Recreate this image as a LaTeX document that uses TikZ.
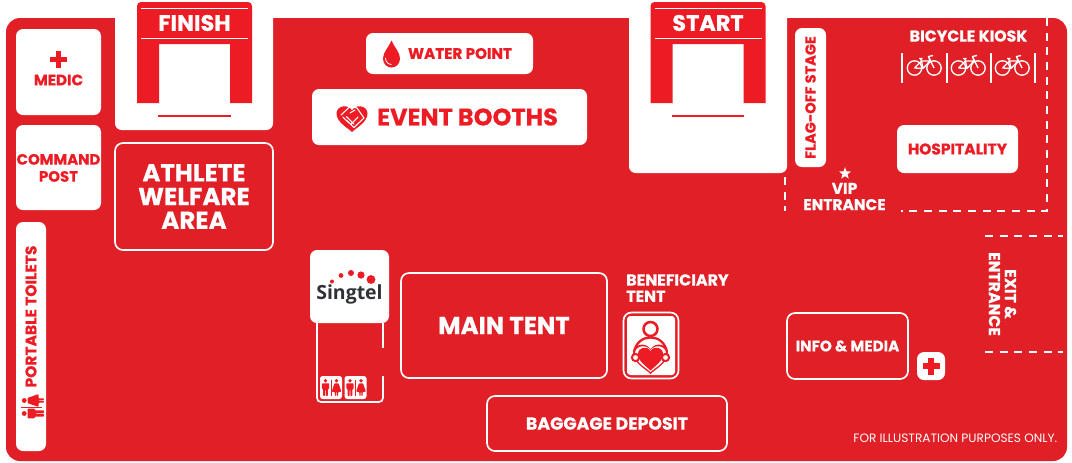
\documentclass[tikz,border=0pt]{standalone}
\usepackage{fontspec}
\usetikzlibrary{calc,shapes.geometric}
\setmainfont{Poppins}[BoldFeatures={FakeBold=0.5}]
\newfontfamily\logofont{Open Sans}
\definecolor{mapred}{HTML}{E01F26}
\definecolor{archred}{HTML}{ED1C24}
\definecolor{logodark}{HTML}{2F3136}
\newcommand\fsz[1]{\fontsize{#1}{#1}\selectfont\bfseries}
\tikzset{
  solid box/.style={fill=white,rounded corners=7*0.75pt},
  line box/.style={draw=white,line width=1.25pt,rounded corners=8*0.75pt},
  wlabel/.style={text=white,inner sep=0pt,align=center},
  rlabel/.style={text=archred,inner sep=0pt,align=center},
  fence/.style={draw=white,line width=1.2pt,dash pattern=on 6pt off 5pt},
  wline/.style={draw=white,line width=0.9pt},
}
% box: name x1 y1 x2 y2 style labelstyle label
\newcommand\zone[8]{%
  \path[#6] (#2,#3) rectangle (#4,#5);
  \node[#7] (#1) at ($(#2,#3)!.5!(#4,#5)$) {#8};}
% arch with label
\newcommand\arch[3]{%
  \begin{scope}[shift={(#2,0)}]
    \fill[archred] (137,103) [rounded corners=3pt] -- (137,2) -- (252,2) [sharp corners] -- (252,103) -- (230,103) -- (230,44) -- (159,44) -- (159,103) -- cycle;
    \draw[white,line width=0.9pt] (141,8.5) -- (248,8.5) (141,38.5) -- (248,38.5);
    \draw[archred,line width=0.9pt] (158,116) -- (230.5,116);
    \node[wlabel,font=\fsz{16.8}] (#1) at (194.5,23) {#3};
  \end{scope}}
\newcommand\crossmark[3]{% x y halfsize
  \fill[archred] (#1-#3*0.33,#2-#3) rectangle (#1+#3*0.33,#2+#3);
  \fill[archred] (#1-#3,#2-#3*0.33) rectangle (#1+#3,#2+#3*0.33);}
\newcommand\heartpath{(0,1) .. controls (-0.25,0.72) and (-1,0.3) .. (-1,-0.32) .. controls (-1,-0.85) and (-0.3,-1.05) .. (0,-0.55) .. controls (0.3,-1.05) and (1,-0.85) .. (1,-0.32) .. controls (1,0.3) and (0.25,0.72) .. (0,1) -- cycle}
% person figures, unit height approx 1 (-.5..+.5)
\newcommand\manfig[1]{%
  \begin{scope}[#1]
    \fill (0,-0.40) circle (0.11);
    \fill[rounded corners=0.6pt] (-0.22,-0.25) -- (0.22,-0.25) -- (0.22,0.08) -- (0.14,0.08) -- (0.14,0.5) -- (0.02,0.5) -- (0.02,0.12) -- (-0.02,0.12) -- (-0.02,0.5) -- (-0.14,0.5) -- (-0.14,0.08) -- (-0.22,0.08) -- cycle;
  \end{scope}}
\newcommand\womanfig[1]{%
  \begin{scope}[#1]
    \fill (0,-0.40) circle (0.11);
    \fill[rounded corners=0.6pt] (-0.12,-0.25) -- (0.12,-0.25) -- (0.29,0.25) -- (0.1,0.25) -- (0.1,0.5) -- (0.02,0.5) -- (0.02,0.25) -- (-0.02,0.25) -- (-0.02,0.5) -- (-0.1,0.5) -- (-0.1,0.25) -- (-0.29,0.25) -- cycle;
  \end{scope}}
\newcommand\toiletbox[1]{%
  \begin{scope}[shift={(#1,387.5)}]
    \fill[white,rounded corners=2pt] (-11,-11.5) rectangle (11,11.5);
    \begin{scope}[archred,fill=archred]
      \manfig{shift={(-5.5,0)},scale=17}
      \womanfig{shift={(5.5,0)},scale=17}
    \end{scope}
    \draw[archred,line width=0.5pt] (0,-8) -- (0,8);
  \end{scope}}
\newcommand\bike[1]{%
  \begin{scope}[shift={(#1,0)}]
    \draw[white,line width=1pt] (914.5,68) circle (7.2) (934,68) circle (7.2);
    \draw[white,line width=1pt,line join=round] (914.5,68) -- (921.5,61) -- (930,61) -- (923,68.5) -- (914.5,68) (921.5,61) -- (923,68.5) (934,68) -- (928.5,56.5) -- (933,55.5) (930,61) -- (928.5,56.5) (919,58.5) -- (922.5,58.5) (920.5,58.5) -- (921.5,61);
  \end{scope}}
\begin{document}
\begin{tikzpicture}[x=0.75pt,y=-0.75pt]
\useasboundingbox (0,0) rectangle (1072,462);
\fill[white] (0,0) rectangle (1072,462);
% ground
\fill[mapred,rounded corners=10.5pt] (6,18) rectangle (1067,461);
% notches
\fill[white,rounded corners=5pt] (115,-6) -- (115,130) -- (273,130) -- (273,-6) -- cycle;
\fill[white,rounded corners=5pt] (629,-6) -- (629,173) -- (787,173) -- (787,-6) -- cycle;
\fill[white] (115,0) rectangle (273,18);
\fill[white] (629,0) rectangle (787,18);
\arch{finish}{0}{FINISH}
\arch{start}{513.5}{START}
% left column
\zone{medic}{16}{29}{101}{115}{solid box}{rlabel,font=\fsz{11.4},yshift=-8*0.75pt}{MEDIC}
\crossmark{58.5}{59.5}{8.5}
\zone{command}{16}{125}{101}{210}{solid box}{rlabel,font=\fsz{11.2},yshift=-0.3pt}{COMMAND\\[1.6pt]POST}
\zone{toilets}{16}{222}{46}{451}{solid box}{}{}
\node[rlabel,font=\fsz{11.6},rotate=90] (toiletlabel) at (31,316.5) {PORTABLE TOILETS};
\begin{scope}[archred,fill=archred]
  \womanfig{shift={(33,400.5)},rotate=90,scale=22}
  \manfig{shift={(33,413.5)},rotate=90,scale=22}
\end{scope}
\draw[archred,line width=0.5pt] (21,407) -- (42,407);
% athlete
\zone{athlete}{115}{143}{273}{250}{line box}{wlabel,font=\fsz{18.4}}{ATHLETE\\[-0.6pt]WELFARE\\[-0.6pt]AREA}
% top middle
\zone{water}{366}{33}{533}{74}{solid box}{rlabel,font=\fsz{11.4},xshift=10.5*0.75pt}{WATER POINT}
\fill[archred] (391.5,40.5) .. controls (389,47) and (383,52) .. (383,58.5) .. controls (383,64) and (387,67.5) .. (391.5,67.5) .. controls (396,67.5) and (400,64) .. (400,58.5) .. controls (400,52) and (394,47) .. (391.5,40.5) -- cycle;
\draw[white,line width=0.6pt] (385.5,58) .. controls (385.5,61.5) and (388,64.5) .. (391.5,64.5);
\zone{booths}{312}{89}{587}{145}{solid box}{rlabel,font=\fsz{18},xshift=18*0.75pt}{EVENT BOOTHS}
\begin{scope}[shift={(352,118)},xscale=15.5,yscale=14]
  \fill[archred] \heartpath;
\end{scope}
\draw[white,line width=0.8pt,line join=round,line cap=round] (341,115) -- (350,106.5) -- (357,108) -- (364,118) -- (354,127.5) -- (347,120.5) (350,113) -- (355,110) (351,124) -- (358,117) (346.5,116.5) -- (354,124) (343,117) -- (349,123);
% flag-off stage
\zone{flagoff}{795}{28}{826}{167}{solid box}{rlabel,font=\fsz{10.9},rotate=90}{FLAG-OFF STAGE}
% hospitality
\zone{hospitality}{897}{125}{1018}{173}{solid box}{rlabel,font=\fsz{11.6}}{HOSPITALITY}
% VIP
\node[star,star points=5,star point ratio=2.4,fill=white,inner sep=0pt,minimum size=9.5pt] (star) at (845,173.5) {};
\node[wlabel,font=\fsz{11.6}] (vip) at (844.5,196.5) {VIP\\[0.6pt]ENTRANCE};
% bicycle
\node[wlabel,font=\fsz{11.8}] (kiosk) at (968.5,36) {BICYCLE KIOSK};
\foreach \sx in {902,947,991,1035}{\draw[wline] (\sx,53) -- (\sx,83);}
\bike{0}\bike{44}\bike{88}
% fences
\draw[fence] (1047,18) -- (1047,211) -- (901,211);
\draw[fence] (785,177) -- (785,211);
\draw[fence] (985,236) -- (1063,236);
\draw[fence] (985,352) -- (1063,352);
\node[wlabel,font=\fsz{11.8},rotate=-90] (exit) at (1002.5,294) {EXIT \&\\[0.2pt]ENTRANCE};
% singtel
\draw[line box,rounded corners=3pt] (317,320) -- (317,402) -- (383,402) -- (383,376);
\draw[line box] (383,323) -- (383,348);
\zone{singtel}{310}{250}{389}{323}{solid box}{inner sep=0pt,text=logodark,font={\logofont\fontsize{14.6}{14.6}\selectfont\bfseries},yshift=-6.3pt}{Singtel}
\fill[archred] (332,281.5) circle (2) (341,275.5) circle (2.4) (351,273) circle (3) (361,275) circle (3.6) (371,279.5) circle (4.4);
\toiletbox{331}
\toiletbox{355.5}
% main tent
\zone{maintent}{401}{273}{607}{378}{line box}{wlabel,font=\fsz{18.3}}{MAIN TENT}
% beneficiary
\node[wlabel,font=\fsz{11.9},align=left,anchor=north west] (benef) at (626,274) {BENEFICIARY\\[0.3pt]TENT};
\path[line box] (623.5,312.5) rectangle (678.5,378.5);
\fill[white,rounded corners=2.5pt] (627,316) rectangle (675,375);
\draw[archred,line width=1.9pt] (650.5,329) circle (7);
\draw[archred,line width=1.7pt,line cap=round] (634,352) .. controls (636,342) and (643,337.5) .. (650.5,337.5) .. controls (658,337.5) and (665,342) .. (667,352);
\begin{scope}[shift={(650.5,358)}]
  \begin{scope}[xscale=17.5,yscale=16]
    \fill[archred] \heartpath;
  \end{scope}
  \begin{scope}[xscale=15.5,yscale=14]
    \fill[white] \heartpath;
  \end{scope}
  \begin{scope}[xscale=12.5,yscale=12.5]
    \fill[archred] \heartpath;
  \end{scope}
\end{scope}
\fill[white,draw=archred,line width=1.5pt] (635.5,357.5) circle (3.6) (665.5,357.5) circle (3.6);
% info
\zone{info}{787}{313}{908}{379}{line box}{wlabel,font=\fsz{11.4}}{INFO \& MEDIA}
\zone{aid}{917}{352}{945}{380}{solid box}{}{}
\crossmark{931}{366}{8.5}
% baggage
\zone{baggage}{487}{396}{727}{451}{line box}{wlabel,font=\fsz{13}}{BAGGAGE DEPOSIT}
% note
\node[text=white,inner sep=0pt,anchor=east,font=\fontsize{9.1}{9.1}\selectfont] (note) at (1057.5,438) {FOR ILLUSTRATION PURPOSES ONLY.};
\end{tikzpicture}
\end{document}
